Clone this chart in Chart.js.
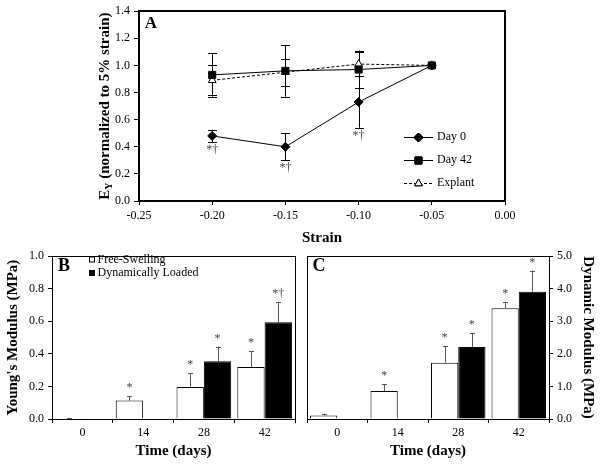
<!DOCTYPE html>
<html><head><meta charset="utf-8">
<script src="https://cdn.jsdelivr.net/npm/chart.js@4.4.1/dist/chart.umd.min.js"></script>
<style>
html,body{margin:0;padding:0;background:#fff;}
#wrap{position:relative;width:601px;height:464px;overflow:hidden;background:#fff;}
canvas{position:absolute;display:block;}
#cA{left:0px;top:0px;}
#cB{left:0px;top:245px;}
#cC{left:300px;top:245px;}
</style></head><body>
<div id="wrap">
<canvas id="cA" width="601" height="250"></canvas>
<canvas id="cB" width="300" height="219"></canvas>
<canvas id="cC" width="301" height="219"></canvas>
</div>
<script>
// ---------- DATA ----------
const strainTicks = [-0.25, -0.20, -0.15, -0.10, -0.05, 0.00];
const strain = [-0.20, -0.15, -0.10, -0.05];
const day0 = [0.48, 0.40, 0.73, 1.00];
const day0Err = [0.045, 0.10, 0.19, 0];
const day42 = [0.93, 0.96, 0.97, 1.00];
const day42Err = [0.16, 0.19, 0.14, 0];
const explant = [0.89, 0.95, 1.01, 1.00];
const explantErr = [0.11, 0.10, 0.09, 0];
const day0Sig = ['*\u2020', '*\u2020', '*\u2020', ''];

const days = ['0', '14', '28', '42'];
const youngFree = [0.005, 0.113, 0.197, 0.320];
const youngFreeErr = [0.003, 0.028, 0.085, 0.096];
const youngDyn = [null, null, 0.354, 0.594];
const youngDynErr = [null, null, 0.091, 0.126];
const youngFreeSig = ['', '*', '*', '*'];
const youngDynSig = ['', '', '*', '*\u2020'];

const dynFree = [0.11, 0.86, 1.73, 3.40];
const dynFreeErr = [0.05, 0.21, 0.51, 0.20];
const dynDyn = [null, null, 2.21, 3.91];
const dynDynErr = [null, null, 0.44, 0.65];
const dynFreeSig = ['', '*', '*', '*'];
const dynDynSig = ['', '', '*', '*'];

// ---------- STYLE ----------
const SERIF = '"Liberation Serif", "Times New Roman", serif';
const tickFont = {family: SERIF, size: 12};
const titleFont = {family: SERIF, size: 15, weight: 'bold'};

function fmt2(v){ return Math.abs(v) < 1e-9 ? '0.00' : v.toFixed(2); }

// error bars
const errorBars = {
  id: 'errorBars',
  beforeDatasetsDraw(chart, args, opts) {
    const ctx = chart.ctx, ys = chart.scales.y;
    chart.data.datasets.forEach((ds, di) => {
      if (!ds.errors) return;
      const meta = chart.getDatasetMeta(di);
      ctx.save();
      ctx.strokeStyle = opts.color || '#000';
      ctx.lineWidth = 1;
      meta.data.forEach((el, i) => {
        const v = ds.data[i] && typeof ds.data[i] === 'object' ? ds.data[i].y : ds.data[i];
        const e = ds.errors[i];
        if (v == null || !e) return;
        const x = Math.round(el.x) + 0.5;
        const yt = ys.getPixelForValue(v + e);
        const yb = opts.oneSided ? ys.getPixelForValue(v) : ys.getPixelForValue(v - e);
        const cw = opts.cap || 4;
        ctx.beginPath();
        ctx.moveTo(x, yb); ctx.lineTo(x, yt);
        ctx.moveTo(x - cw, Math.round(yt) + 0.5); ctx.lineTo(x + cw, Math.round(yt) + 0.5);
        if (!opts.oneSided) { ctx.moveTo(x - cw, Math.round(yb) + 0.5); ctx.lineTo(x + cw, Math.round(yb) + 0.5); }
        ctx.stroke();
      });
      ctx.restore();
    });
  },
  afterDatasetsDraw(chart, args, opts) {
    const ctx = chart.ctx, ys = chart.scales.y;
    chart.data.datasets.forEach((ds, di) => {
      if (!ds.sig) return;
      const meta = chart.getDatasetMeta(di);
      ctx.save();
      ctx.fillStyle = '#444';
      ctx.font = '12px ' + SERIF;
      ctx.textAlign = 'center';
      ctx.textBaseline = 'middle';
      meta.data.forEach((el, i) => {
        const s = ds.sig[i];
        if (!s) return;
        const v = ds.data[i] && typeof ds.data[i] === 'object' ? ds.data[i].y : ds.data[i];
        const e = ds.errors[i] || 0;
        if (ds.sigBelow) ctx.fillText(s, el.x, ys.getPixelForValue(v - e) + 8);
        else ctx.fillText(s, el.x, ys.getPixelForValue(v + e) - 8);
      });
      ctx.restore();
    });
  }
};

// box + decorations
const deco = {
  id: 'deco',
  afterDraw(chart, args, opts) {
    const ctx = chart.ctx, a = chart.chartArea;
    ctx.save();
    ctx.strokeStyle = '#000';
    ctx.lineWidth = opts.box || 1;
    const o = (opts.box || 1) % 2 ? 0.5 : 0;
    ctx.strokeRect(Math.round(a.left) + o, Math.round(a.top) + o, Math.round(a.right - a.left), Math.round(a.bottom - a.top));
    if (opts.letter) {
      ctx.fillStyle = '#000';
      ctx.font = 'bold ' + opts.letter.size + 'px ' + SERIF;
      ctx.textAlign = 'center'; ctx.textBaseline = 'middle';
      ctx.fillText(opts.letter.text, opts.letter.x, opts.letter.y);
    }
    if (opts.draw) opts.draw(chart, ctx);
    ctx.restore();
  }
};

// ---------- CHART A ----------
new Chart(document.getElementById('cA'), {
  type: 'line',
  data: {
    datasets: [
      {label: 'Day 0', data: strain.map((x, i) => ({x: x, y: day0[i]})), errors: day0Err, sig: day0Sig, sigBelow: true,
       borderColor: '#000', backgroundColor: '#000', borderWidth: 1, pointStyle: 'rectRot', pointRadius: 4.5,
       pointBackgroundColor: '#000', pointBorderColor: '#000', tension: 0},
      {label: 'Day 42', data: strain.map((x, i) => ({x: x, y: day42[i]})), errors: day42Err,
       borderColor: '#000', backgroundColor: '#000', borderWidth: 1, pointStyle: 'rect', pointRadius: 5,
       pointBackgroundColor: '#000', pointBorderColor: '#000', tension: 0},
      {label: 'Explant', data: strain.map((x, i) => ({x: x, y: explant[i]})), errors: explantErr,
       borderColor: '#000', backgroundColor: '#fff', borderWidth: 1, borderDash: [3, 2], pointStyle: 'triangle', pointRadius: 4.5,
       pointBackgroundColor: '#fff', pointBorderColor: '#000', pointBorderWidth: 1, tension: 0}
    ]
  },
  options: {
    responsive: false, animation: false,
    layout: {padding: {top: 10, right: 96, left: 0, bottom: 0}},
    plugins: {
      legend: {display: false}, tooltip: {enabled: false},
      errorBars: {cap: 4.5, color: '#000'},
      deco: {
        box: 2,
        letter: {text: 'A', x: 151, y: 24, size: 17},
        draw(chart, ctx) {
          const items = chart.data.datasets;
          const ly = [137, 160, 183];
          items.forEach((ds, k) => {
            const y = ly[k];
            ctx.save();
            ctx.strokeStyle = '#000'; ctx.lineWidth = 1;
            ctx.setLineDash(ds.borderDash || []);
            ctx.beginPath(); ctx.moveTo(404, y + 0.5); ctx.lineTo(433, y + 0.5); ctx.stroke();
            ctx.setLineDash([]);
            Chart.helpers.drawPoint(ctx, {pointStyle: ds.pointStyle, rotation: 0, radius: ds.pointRadius, borderWidth: 1}, 418.5, y + 0.5);
            ctx.fillStyle = ds.pointBackgroundColor;
            ctx.fill();
            ctx.stroke();
            ctx.fillStyle = '#000';
            ctx.font = '12px ' + SERIF;
            ctx.textAlign = 'left'; ctx.textBaseline = 'middle';
            ctx.fillText(ds.label, 437, y);
            ctx.restore();
          });
          const a = chart.chartArea;
          ctx.save();
          ctx.translate(105, (a.top + a.bottom) / 2);
          ctx.rotate(-Math.PI / 2);
          ctx.fillStyle = '#000';
          ctx.textBaseline = 'middle';
          ctx.textAlign = 'left';
          const fBig = 'bold 15px ' + SERIF, fSmall = 'bold 10px ' + SERIF;
          const rest = ' (normalized to 5% strain)';
          ctx.font = fBig; const wE = ctx.measureText('E').width; const wR = ctx.measureText(rest).width;
          ctx.font = fSmall; const wY = ctx.measureText('Y').width;
          let x0 = -(wE + wY + wR) / 2;
          ctx.font = fBig; ctx.fillText('E', x0, 0);
          ctx.font = fSmall; ctx.fillText('Y', x0 + wE, 4);
          ctx.font = fBig; ctx.fillText(rest, x0 + wE + wY, 0);
          ctx.restore();
        }
      }
    },
    scales: {
      x: {
        type: 'linear', min: -0.25, max: 0,
        afterBuildTicks: s => { s.ticks = strainTicks.map(v => ({value: v})); },
        ticks: {callback: v => fmt2(v), font: tickFont, color: '#000', padding: 4, maxRotation: 0, autoSkip: false},
        grid: {display: true, drawOnChartArea: false, tickLength: 4, color: '#000'},
        border: {display: false},
        title: {display: true, text: 'Strain', font: titleFont, color: '#000', padding: {top: 0, bottom: 3}},
        afterFit: s => { s.height = 49; }
      },
      y: {
        min: 0, max: 1.4,
        ticks: {stepSize: 0.2, callback: v => v.toFixed(1), font: tickFont, color: '#000', padding: 4},
        grid: {display: true, drawOnChartArea: false, tickLength: 5, color: '#000'},
        border: {display: false},
        afterFit: s => { s.width = 139; }
      }
    }
  },
  plugins: [errorBars, deco]
});

// ---------- BAR CHART FACTORY ----------
function barChart(id, free, freeErr, freeSig, dyn, dynErr, dynSig, yMax, yTitle, side, letter, withLegend) {
  const right = side === 'right';
  return new Chart(document.getElementById(id), {
    type: 'bar',
    data: {
      labels: days,
      datasets: [
        {label: 'Free-Swelling', data: free, errors: freeErr, sig: freeSig, backgroundColor: '#fff', borderColor: '#000', borderWidth: 1},
        {label: 'Dynamically Loaded', data: dyn, errors: dynErr, sig: dynSig, backgroundColor: '#000', borderColor: '#000', borderWidth: 1}
      ]
    },
    options: {
      responsive: false, animation: false,
      layout: {padding: right ? {top: 8, right: 0, left: 7, bottom: 0} : {top: 8, right: 5, left: 0, bottom: 0}},
      datasets: {bar: {categoryPercentage: 0.9, barPercentage: 1.0}},
      plugins: {
        legend: {display: false}, tooltip: {enabled: false},
        errorBars: {cap: 2.5, color: '#555', oneSided: true},
        deco: {
          box: 1,
          letter: letter,
          draw(chart, ctx) {
            if (!withLegend) return;
            const ds = chart.data.datasets;
            const ly = [14.5, 28];
            ds.forEach((d, k) => {
              ctx.fillStyle = d.backgroundColor;
              ctx.strokeStyle = '#000'; ctx.lineWidth = 1;
              ctx.fillRect(89.5, ly[k] - 2.5, 5, 5);
              ctx.strokeRect(89.5, ly[k] - 2.5, 5, 5);
              ctx.fillStyle = '#000';
              ctx.font = '12px ' + SERIF;
              ctx.textAlign = 'left'; ctx.textBaseline = 'middle';
              ctx.fillText(d.label, 97.5, ly[k]);
            });
          }
        }
      },
      scales: {
        x: {
          grid: {display: true, offset: true, drawOnChartArea: false, tickLength: 4, color: '#000'},
          border: {display: false},
          ticks: {font: tickFont, color: '#000', padding: 3},
          title: {display: true, text: 'Time (days)', font: titleFont, color: '#000', padding: {top: 0, bottom: 4}},
          afterFit: s => { s.height = 45; }
        },
        y: {
          position: side, min: 0, max: yMax,
          ticks: {stepSize: yMax / 5, callback: v => v.toFixed(1), font: tickFont, color: '#000', padding: 4},
          grid: {display: true, drawOnChartArea: false, tickLength: 4, color: '#000'},
          border: {display: false},
          title: {display: true, text: yTitle, font: titleFont, color: '#000', padding: {top: 4, bottom: 0}},
          afterFit: s => { s.width = 52; }
        }
      }
    },
    plugins: [errorBars, deco]
  });
}

barChart('cB', youngFree, youngFreeErr, youngFreeSig, youngDyn, youngDynErr, youngDynSig, 1.0,
  "Young's Modulus (MPa)", 'left', {text: 'B', x: 64, y: 21, size: 18}, true);
barChart('cC', dynFree, dynFreeErr, dynFreeSig, dynDyn, dynDynErr, dynDynSig, 5.0,
  'Dynamic Modulus (MPa)', 'right', {text: 'C', x: 19, y: 21, size: 18}, false);
</script>
</body></html>
